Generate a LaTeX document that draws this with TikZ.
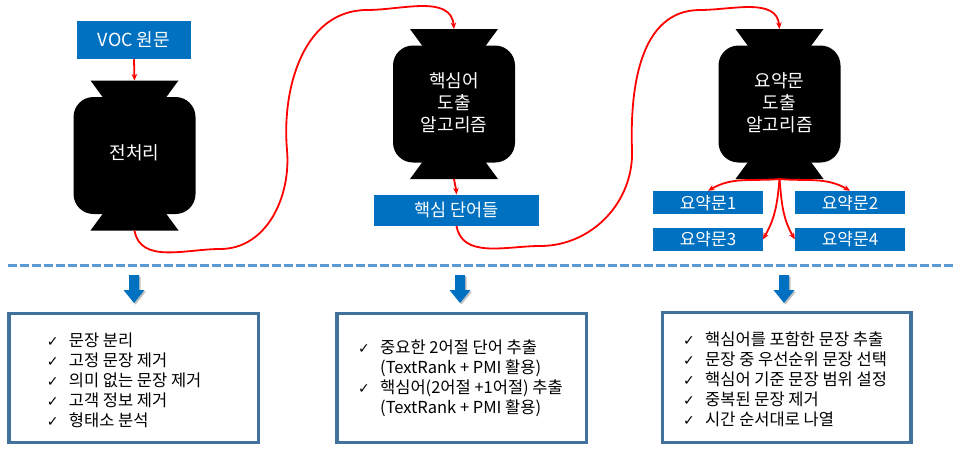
\documentclass[tikz,border=0pt]{standalone}
\usepackage{fontspec}
\setmainfont{Noto Sans CJK KR}
\newfontfamily\symfont{DejaVu Sans}
\usetikzlibrary{arrows.meta,calc}
\definecolor{boxblue}{RGB}{0,112,192}
\definecolor{frameblue}{RGB}{65,113,156}
\definecolor{dashblue}{RGB}{91,155,213}
\newcommand{\ck}{\makebox[22pt][l]{{\symfont\fontsize{14}{14}\selectfont ✓}}}
\tikzset{
  flow/.style={draw=red, line width=1.8pt, -{Stealth[length=6.5pt,width=5.5pt]}},
  bluebox/.style={fill=boxblue, text=white, inner sep=0pt, font=\fontsize{17.5}{20}\selectfont},
  listframe/.style={draw=frameblue, line width=3.5pt, fill=white, inner sep=0pt},
  listtext/.style={anchor=base west, inner sep=0pt, align=left, font=\fontsize{16.5}{20}\selectfont},
  candytext/.style={text=white, align=center, inner sep=0pt, font=\fontsize{18}{22}\selectfont},
  pics/candy/.style={code={
     \fill[black] (-44,75) -- (44,75) -- (31.5,58) -- (-31.5,58) -- cycle;
     \fill[black] (-44,-75) -- (44,-75) -- (31.5,-58) -- (-31.5,-58) -- cycle;
     \fill[black, rounded corners=20pt] (-61,-58.5) rectangle (61,58.5);
  }},
  pics/downarrow/.style={code={
     \fill[black, opacity=0.25] (-3.5,-1.5) -- (6.5,-1.5) -- (6.5,-16.5) -- (12,-16.5) -- (1.5,-29.5) -- (-9,-16.5) -- (-3.5,-16.5) -- cycle;
     \fill[boxblue] (-5,0) -- (5,0) -- (5,-15) -- (10.5,-15) -- (0,-28) -- (-10.5,-15) -- (-5,-15) -- cycle;
  }},
}
\begin{document}
\begin{tikzpicture}[x=1pt,y=1pt]
\useasboundingbox (0,0) rectangle (960,-455);
\fill[white] (0,0) rectangle (960,-455);

% candy shapes
\pic at (134.5,-155.5) {candy};
\pic at (454,-104) {candy};
\pic at (779.5,-104) {candy};
\coordinate (s1top) at (134.5,-80.5);
\coordinate (s1bot) at (134.5,-230.5);
\coordinate (s2top) at (454,-29);
\coordinate (s2bot) at (454,-179);
\coordinate (s3top) at (779.5,-29);
\coordinate (s3bot) at (779.5,-179);

\node[candytext] (t1) at (134.5,-153) {전처리};
\node[candytext] (t2) at (454,-103) {핵심어\\도출\\알고리즘};
\node[candytext] (t3) at (779.5,-103) {요약문\\도출\\알고리즘};

% blue boxes
\node[bluebox, minimum width=114pt, minimum height=38.5pt, font=\fontsize{18}{20}\selectfont] (voc) at (134,-39.8) {VOC 원문};
\node[bluebox, minimum width=165pt, minimum height=31pt] (kw) at (456.5,-210.2) {핵심 단어들};
\node[bluebox, minimum width=109.5pt, minimum height=23.5pt, font=\fontsize{17}{20}\selectfont] (y1) at (708,-202.7) {요약문1};
\node[bluebox, minimum width=110pt, minimum height=23.5pt, font=\fontsize{17}{20}\selectfont] (y2) at (850,-202.7) {요약문2};
\node[bluebox, minimum width=109.5pt, minimum height=23.5pt, font=\fontsize{17}{20}\selectfont] (y3) at (708,-239.3) {요약문3};
\node[bluebox, minimum width=110pt, minimum height=23.5pt, font=\fontsize{17}{20}\selectfont] (y4) at (850,-239.3) {요약문4};

% red connectors
\draw[flow] (voc.south) -- (s1top);
\draw[flow] (s1bot) to[out=-80,in=180] (220,-249) to[out=0,in=-85] (287,-150) to[out=95,in=180] (367,-10) to[out=0,in=95] (s2top);
\draw[flow] (s2bot) to[out=-80,in=95] (kw.north);
\draw[flow] (kw.south) to[out=-80,in=180] (540,-246) to[out=0,in=-88] (632,-150) to[out=92,in=180] (700,-10) to[out=0,in=95] (s3top);
\draw[flow] (s3bot) to[out=185,in=30] (y1.north);
\draw[flow] (s3bot) to[out=-5,in=150] (y2.north);
\draw[flow] (s3bot) to[out=-95,in=60] (y3.east);
\draw[flow] (s3bot) to[out=-85,in=120] (y4.west);

% dashed separator
\coordinate (dl) at (8,-265.7);
\coordinate (dr) at (955,-265.7);
\draw[dashblue, line width=3pt, dash pattern=on 9pt off 3pt] (dl) -- (dr);

% down arrows
\pic at (134,-275) {downarrow};
\pic at (460,-275) {downarrow};
\pic at (784,-275) {downarrow};

% list boxes
\node[listframe, minimum width=249.5pt, minimum height=128.8pt] (b1) at (133.5,-377.85) {};
\node[listframe, minimum width=249.5pt, minimum height=128.8pt] (b2) at (461.5,-377.85) {};
\node[listframe, minimum width=248.5pt, minimum height=129.8pt] (b3) at (786.7,-377.35) {};

\node[listtext] (l1) at (46.7,-426) {\ck 문장 분리\\\ck 고정 문장 제거\\\ck 의미 없는 문장 제거\\\ck 고객 정보 제거\\\ck 형태소 분석};
\node[listtext] (l2) at (358,-413.4) {\ck 중요한 2어절 단어 추출\\\hspace*{22pt}(TextRank + PMI 활용)\\\ck 핵심어(2어절 +1어절) 추출\\\hspace*{22pt}(TextRank + PMI 활용)};
\node[listtext] (l3) at (683,-425) {\ck 핵심어를 포함한 문장 추출\\\ck 문장 중 우선순위 문장 선택\\\ck 핵심어 기준 문장 범위 설정\\\ck 중복된 문장 제거\\\ck 시간 순서대로 나열};
\end{tikzpicture}
\end{document}
